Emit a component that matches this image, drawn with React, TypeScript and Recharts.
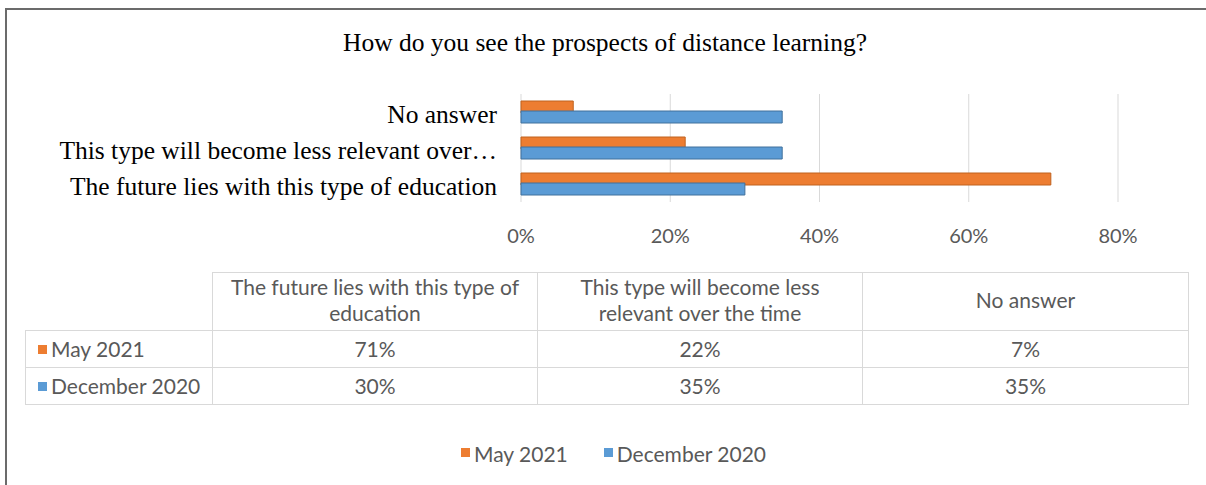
import React from 'react';
import { BarChart, Bar, XAxis, YAxis, CartesianGrid } from 'recharts';

const title = 'How do you see the prospects of distance learning?';
const categories = [
  'The future lies with this type of education',
  'This type will become less relevant over the time',
  'No answer',
];
const axisLabels = [
  'The future lies with this type of education',
  'This type will become less relevant over…',
  'No answer',
];
const headerLines = [
  ['The future lies with this type of', 'education'],
  ['This type will become less', 'relevant over the time'],
  ['No answer'],
];
const seriesNames = ['May 2021', 'December 2020'];
const may2021 = [0.71, 0.22, 0.07];
const dec2020 = [0.3, 0.35, 0.35];
const xTicks = [0, 0.2, 0.4, 0.6, 0.8];
const colors = ['#ED7D31', '#5B9BD5'];
const strokes = ['#C0621F', '#41719C'];

const data = categories.map((c, i) => ({ name: c, may: may2021[i], dec: dec2020[i] }));
const seriesValues = [may2021, dec2020];

const pct = (v: number) => `${Math.round(v * 100)}%`;

const sans = 'Lato, "Open Sans", sans-serif';
const serif = '"Liberation Serif", "Times New Roman", serif';
const gray = '#595959';
const border = '1px solid #d9d9d9';

export default function App() {
  return (
    <div style={{ position: 'absolute', left: 0, top: 0, width: 1206, height: 485, background: '#fff', overflow: 'hidden' }}>
      <div style={{ position: 'absolute', left: 5, top: 8, width: 1201, height: 477, borderTop: '2px solid #6b6b6b', borderLeft: '2px solid #6b6b6b' }} />
      <div style={{ position: 'absolute', left: 0, top: 27, width: 1210, textAlign: 'center', fontFamily: serif, fontSize: 25.5, lineHeight: '32px', color: '#000' }}>{title}</div>
      <div style={{ position: 'absolute', left: 0, top: 0 }}>
        <BarChart
          width={1206}
          height={254}
          data={data}
          layout="vertical"
          margin={{ top: 94, right: 88, bottom: 0, left: 0 }}
          barSize={12}
          barGap={-2}
          barCategoryGap={7}
        >
          <CartesianGrid horizontal={false} stroke="#d9d9d9" />
          <XAxis
            type="number"
            domain={[0, 0.8]}
            ticks={xTicks}
            tickFormatter={pct}
            axisLine={false}
            tickLine={false}
            tickMargin={21}
            height={52}
            tick={{ fill: gray, fontSize: 20, fontFamily: sans }}
          />
          <YAxis
            type="category"
            dataKey="name"
            reversed
            width={521}
            axisLine={false}
            tickLine={false}
            tickMargin={18}
            interval={0}
            tickFormatter={(v: string) => axisLabels[categories.indexOf(v)]}
            tick={{ fill: '#000', fontSize: 25.5, fontFamily: serif, dy: 2 }}
          />
          <Bar dataKey="may" name={seriesNames[0]} fill={colors[0]} stroke={strokes[0]} strokeWidth={1} isAnimationActive={false} />
          <Bar dataKey="dec" name={seriesNames[1]} fill={colors[1]} stroke={strokes[1]} strokeWidth={1} isAnimationActive={false} />
        </BarChart>
      </div>
      <table
        style={{
          position: 'absolute',
          left: 25,
          top: 272,
          width: 1163,
          borderCollapse: 'collapse',
          fontFamily: sans,
          fontSize: 21,
          color: gray,
          tableLayout: 'fixed',
        }}
      >
        <colgroup>
          <col style={{ width: 187 }} />
          <col style={{ width: 325 }} />
          <col style={{ width: 325 }} />
          <col style={{ width: 326 }} />
        </colgroup>
        <tbody>
          <tr style={{ height: 58 }}>
            <td style={{ borderRight: border, borderBottom: border }} />
            {headerLines.map((lines, i) => (
              <td key={i} style={{ border, textAlign: 'center', lineHeight: '26px', padding: '0 0 3px 0' }}>
                {lines.map((l, j) => (
                  <div key={j}>{l}</div>
                ))}
              </td>
            ))}
          </tr>
          {seriesNames.map((s, si) => (
            <tr key={s} style={{ height: 37 }}>
              <td style={{ border, padding: '0 0 0 12px', whiteSpace: 'nowrap', lineHeight: '24px' }}>
                <span style={{ display: 'inline-block', width: 9, height: 9, background: colors[si], marginRight: 4, verticalAlign: 'middle', position: 'relative', top: -2 }} />
                {s}
              </td>
              {seriesValues[si].map((v, i) => (
                <td key={i} style={{ border, textAlign: 'center', padding: 0, lineHeight: '24px' }}>{pct(v)}</td>
              ))}
            </tr>
          ))}
        </tbody>
      </table>
      <div style={{ position: 'absolute', left: 461, top: 441, display: 'flex', gap: 36, fontFamily: sans, fontSize: 21, color: gray }}>
        {seriesNames.map((s, si) => (
          <div key={s} style={{ display: 'flex', alignItems: 'center' }}>
            <span style={{ display: 'inline-block', width: 9, height: 9, background: colors[si], marginRight: 4, position: 'relative', top: -1 }} />
            {s}
          </div>
        ))}
      </div>
    </div>
  );
}
